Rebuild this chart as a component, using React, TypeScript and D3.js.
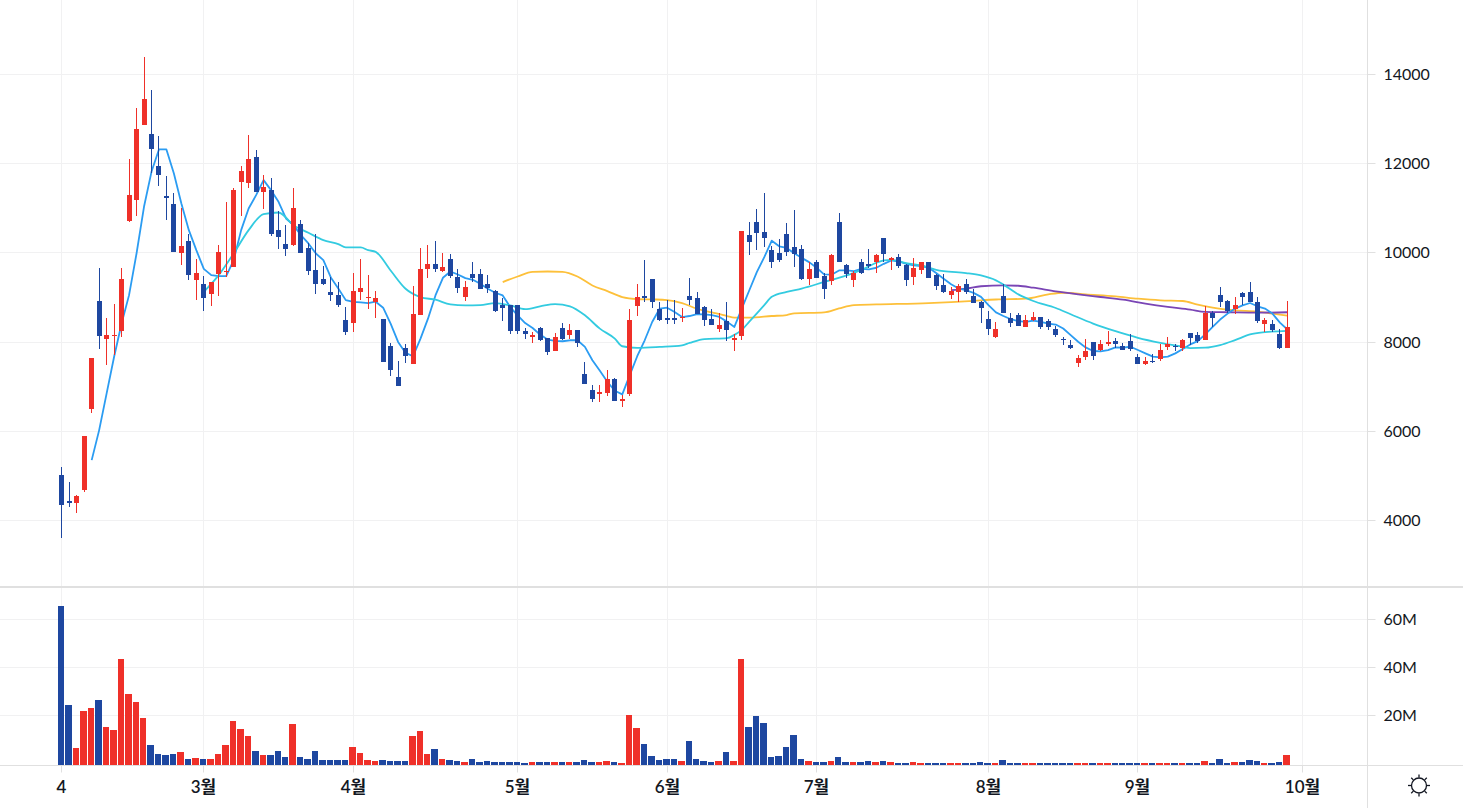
import * as D3 from 'd3'
import { useEffect, useRef } from 'react'

const HIGHS = [
  5197, 4861, 4569, 5892, 7641, 9658, 8538, 8851, 9658, 12102,
  13245, 14389, 13649, 12618, 11721, 11340, 11004, 10421, 9860, 9479,
  9345, 10174, 11138, 11452, 11945, 12640, 12304, 11743, 11676, 10936,
  10622, 11452, 10735, 10219, 10421, 9703, 9457, 9345, 8784, 9546,
  9860, 9502, 9136, 8510, 7974, 7572, 7952, 9248, 10120, 10187,
  10276, 10008, 9985, 9650, 9360, 9807, 9650, 9494, 9158, 8980,
  8823, 8823, 8309, 8220, 8332, 8086, 8197, 8421, 8399, 8265,
  7549, 7035, 7035, 7371, 7192, 6812, 8734, 9293, 9851, 9404,
  8890, 8935, 8935, 8756, 9430, 9118, 8807, 8740, 8651, 8896,
  8185, 10497, 10697, 10986, 11341, 10163, 10319, 10674, 10963, 10185,
  9785, 9830, 9541, 9985, 10897, 9741, 9585, 9874, 10096, 9985,
  10341, 9919, 9985, 9741, 9896, 9785, 9807, 9519, 9519, 9229,
  9296, 9407, 9185, 8918, 8696, 8451, 9296, 8647, 8647, 8602,
  8669, 8557, 8513, 8357, 8112, 8045, 7710, 8067, 8000, 8045,
  8245, 8089, 7977, 8178, 7733, 7666, 7733, 7955, 8112, 7955,
  8067, 8201, 8223, 8803, 8691, 9226, 8936, 9003, 9115, 9337,
  9003, 8535, 8490, 8290, 8914,
]
const LOWS = [
  3605, 4308, 4166, 4636, 6408, 7842, 7484, 7708, 8112, 10690,
  10824, 12864, 11788, 11497, 10735, 10017, 9726, 9389, 8941, 8694,
  8807, 9031, 9457, 9681, 10824, 11452, 11362, 10981, 10376, 10084,
  9927, 10152, 9995, 9502, 9076, 9277, 8919, 8784, 8157, 8224,
  8941, 8740, 8533, 7549, 7236, 7013, 7527, 7505, 8600, 9427,
  9561, 9561, 9427, 9091, 8913, 9337, 9181, 9091, 8667, 8466,
  8175, 8175, 8064, 7974, 8019, 7706, 7795, 8041, 8064, 7885,
  7058, 6655, 6655, 6789, 6678, 6544, 6789, 8577, 8890, 8756,
  8466, 8399, 8399, 8443, 8829, 8629, 8362, 8385, 8229, 8029,
  7807, 8051, 9963, 10074, 10141, 9652, 9807, 9941, 9674, 9385,
  9274, 9430, 8963, 9274, 9807, 9430, 9229, 9519, 9652, 9541,
  9785, 9607, 9652, 9252, 9274, 9519, 9430, 9163, 9096, 8963,
  8896, 9074, 8874, 8429, 8162, 8096, 8651, 8334, 8357, 8334,
  8468, 8290, 8268, 8112, 7933, 7844, 7443, 7599, 7599, 7800,
  7911, 7866, 7822, 7800, 7510, 7487, 7539, 7577, 7822, 7800,
  7800, 7933, 7977, 8045, 8334, 8780, 8647, 8624, 8825, 8892,
  8424, 8223, 8223, 7844, 7866,
]
const OPENS = [
  5018, 4435, 4390, 4681, 6497, 8919, 8067, 8134, 8246, 10712,
  11183, 12864, 12663, 11945, 11273, 11093, 9995, 10264, 9389, 9300,
  9076, 9524, 9569, 9681, 11586, 11564, 12147, 11362, 11407, 10510,
  10197, 10174, 10645, 10107, 9614, 9412, 9120, 9053, 8493, 8425,
  9120, 8979, 8890, 8510, 7907, 7214, 7862, 7505, 8600, 9628,
  9740, 9583, 9874, 9449, 9002, 9516, 9538, 9293, 9136, 8823,
  8823, 8823, 8242, 8108, 8309, 8086, 7795, 8309, 8153, 8265,
  7281, 6924, 6834, 6857, 7169, 6678, 6834, 8801, 9024, 9404,
  8734, 8533, 8533, 8533, 9029, 8985, 8785, 8518, 8296, 8474,
  8051, 8140, 10408, 10697, 10474, 10074, 10007, 10430, 10141, 10096,
  9407, 9807, 9474, 9363, 10697, 9718, 9385, 9785, 9741, 9807,
  10341, 9852, 9919, 9718, 9452, 9607, 9807, 9496, 9274, 9052,
  9118, 9296, 9029, 8896, 8518, 8118, 9029, 8535, 8602, 8334,
  8490, 8557, 8468, 8290, 8074, 7933, 7532, 7666, 8000, 7822,
  7955, 8022, 7911, 8022, 7666, 7510, 7584, 7621, 7889, 7911,
  7866, 8201, 8156, 8045, 8647, 9048, 8914, 8736, 9092, 9115,
  8892, 8401, 8401, 8178, 7866,
]
const CLOSES = [
  4353, 4390, 4547, 5892, 7641, 8134, 8156, 8156, 9412, 11295,
  12775, 13447, 12326, 11743, 11228, 10017, 10152, 9502, 9546, 8986,
  9345, 10017, 9591, 11407, 11833, 12102, 11362, 11474, 10421, 10353,
  10084, 11004, 9995, 9591, 9300, 9300, 9053, 8829, 8224, 9143,
  9210, 9008, 8980, 7549, 7371, 7013, 7683, 8622, 9628, 9740,
  9628, 9673, 9471, 9203, 9225, 9427, 9181, 9203, 8689, 8756,
  8242, 8242, 8175, 8153, 8041, 7773, 8108, 8064, 8265, 7974,
  7058, 6722, 6879, 7169, 6678, 6722, 8488, 9002, 8980, 8890,
  8488, 8488, 8488, 8555, 8940, 8629, 8496, 8385, 8385, 8274,
  8096, 10497, 10252, 10452, 10341, 9807, 9852, 10030, 9985, 9407,
  9630, 9430, 9185, 9963, 9807, 9519, 9541, 9541, 9696, 9963,
  9985, 9896, 9696, 9385, 9652, 9785, 9430, 9252, 9118, 9141,
  9252, 9118, 8874, 8763, 8296, 8296, 8651, 8424, 8357, 8490,
  8557, 8334, 8334, 8156, 8052, 7866, 7643, 7799, 7688, 7955,
  8000, 7955, 7822, 7844, 7510, 7577, 7562, 7822, 7955, 7889,
  8045, 8089, 8022, 8647, 8535, 8892, 8691, 8825, 9003, 8892,
  8468, 8490, 8268, 7866, 8339,
]
// millions of shares
const VOLUMES = [
  65.6, 24.3, 6.4, 21.8, 23.1, 26.4, 15.1, 13.9, 43.5, 28.9,
  25.6, 18.9, 7.6, 3.9, 3.5, 3.9, 4.7, 1.8, 2.2, 1.8,
  1.8, 3.9, 7.6, 17.6, 14.3, 11.4, 5.1, 3.5, 3.5, 5.1,
  2.6, 16.4, 2.6, 1.8, 5.1, 1.4, 1.4, 1.4, 1.4, 6.8,
  4.3, 1.4, 1.0, 1.4, 1.0, 1.0, 1.0, 11.4, 13.5, 3.9,
  6.0, 1.8, 1.4, 1.0, 0.6, 1.8, 0.6, 1.0, 0.6, 0.6,
  0.6, 0.6, 0.1, 0.6, 0.6, 0.6, 0.6, 0.6, 0.6, 0.6,
  1.4, 0.6, 0.6, 1.0, 0.6, 0.1, 20.1, 14.7, 8.1, 3.1,
  1.4, 1.8, 1.8, 1.0, 9.3, 1.8, 1.0, 0.6, 1.0, 4.7,
  1.0, 43.5, 15.1, 19.7, 16.8, 2.6, 3.1, 6.8, 11.8, 1.8,
  1.0, 0.6, 0.6, 1.0, 2.6, 0.6, 0.6, 0.6, 1.0, 0.6,
  1.1, 0.7, 0.3, 0.3, 0.7, 0.3, 0.3, 0.3, 0.3, 0.3,
  0.3, 0.3, 0.3, 0.7, 0.3, 0.3, 1.5, 0.3, 0.3, 0.3,
  0.3, 0.3, 0.3, 0.3, 0.3, 0.3, 0.3, 0.3, 0.3, 0.3,
  0.3, 0.3, 0.3, 0.3, 0.3, 0.3, 0.3, 0.3, 0.3, 0.3,
  0.3, 0.3, 0.3, 1.1, 0.3, 1.9, 0.3, 0.7, 0.7, 1.5,
  1.1, 0.3, 0.3, 0.7, 3.6,
]

// moving averages: [candle index, price]
const MA5_START = 4
const MA5 = [
  5354, 6027, 6849, 7671, 8418, 9053, 9987, 11034, 11818, 12319, 12319, 11781, 11108, 10510, 10062, 9643,
  9502, 9479, 9479, 9838, 10510, 10996, 11295, 11631, 11407, 11146, 10772, 10622, 10398, 10212, 9987, 9838,
  9449, 9203, 8941, 8904, 8889, 8874, 8905, 8771, 8414, 8004, 7758, 7683, 8078, 8525, 9047, 9442,
  9583, 9516, 9434, 9397, 9307, 9196, 9106, 9047, 8786, 8600, 8428, 8317, 8168, 8056, 8026, 8019,
  8041, 8041, 7892, 7594, 7356, 7110, 6909, 6827, 7259, 7683, 8041, 8451, 8749, 8771, 8674, 8562,
  8585, 8629, 8622, 8607, 8563, 8459, 8340, 8755, 9163, 9570, 9904, 10274, 10148, 10111, 9993, 9889,
  9793, 9667, 9518, 9511, 9607, 9607, 9592, 9644, 9629, 9667, 9755, 9830, 9807, 9755, 9718, 9704,
  9667, 9548, 9422, 9296, 9200, 9163, 9103, 9014, 8829, 8666, 8585, 8513, 8468, 8453, 8483, 8453,
  8416, 8394, 8305, 8156, 8007, 7881, 7800, 7792, 7822, 7881, 7874, 7896, 7822, 7747, 7673, 7658,
  7673, 7747, 7844, 7948, 8022, 8171, 8342, 8505, 8639, 8751, 8825, 8877, 8803, 8751, 8639, 8438,
  8282,
]
const MA20_DAYS = [
  19, 21, 23, 25, 27, 29, 31, 33, 35, 37, 38, 40, 41, 42, 44, 46, 48, 50, 52, 54, 56, 58, 60, 62, 64, 66, 68,
  70, 72, 74, 75, 77, 80, 83, 84, 86, 89, 90, 91, 92, 94, 95, 97, 99, 102, 105, 107, 110, 111, 113, 115, 117,
  118, 121, 123, 125, 126, 128, 130, 133, 135, 138, 141, 144, 147, 150, 151, 153, 155, 157, 159, 161, 164,
]
const MA20 = [
  9128, 9502, 9987, 10510, 10869, 10906, 10622, 10451, 10286, 10197, 10122, 10122, 10062, 10023, 9605, 9196, 9009,
  8950, 8846, 8823, 8831, 8875, 8823, 8741, 8801, 8853, 8801, 8600, 8302, 8078, 7907, 7870, 7892, 7929, 7981, 8066,
  8088, 8162, 8273, 8459, 8829, 9015, 9126, 9200, 9348, 9496, 9622, 9830, 9844, 9770, 9718, 9622, 9592, 9548, 9496,
  9385, 9289, 9070, 8921, 8765, 8624, 8416, 8245, 8097, 7985, 7896, 7866, 7874, 7933, 8045, 8171, 8223, 8253,
]
const MA60_DAYS = [
  59, 61, 63, 65, 67, 69, 71, 73, 75, 77, 79, 81, 83, 85, 87, 89, 90, 92, 95, 97, 98, 102, 104, 106, 109, 116,
  119, 122, 125, 126, 129, 132, 134, 137, 141, 144, 147, 150, 152, 154, 157, 160, 162, 164,
]
const MA60 = [
  9345, 9471, 9576, 9583, 9576, 9471, 9270, 9144, 9010, 8965, 8957, 8943, 8875, 8748, 8666, 8585, 8548, 8548, 8585,
  8607, 8644, 8666, 8755, 8829, 8844, 8874, 8896, 8926, 8955, 8959, 8973, 9070, 9107, 9070, 9025, 8973, 8936, 8921,
  8840, 8773, 8713, 8684, 8639, 8594,
]
const MA120_DAYS = [119, 121, 123, 126, 128, 130, 133, 136, 139, 142, 145, 148, 151, 153, 156, 160, 164]
const MA120 = [9163, 9200, 9252, 9270, 9263, 9219, 9137, 9070, 9011, 8951, 8862, 8788, 8728, 8676, 8669, 8661, 8669]

const PRICE_TICKS = [4000, 6000, 8000, 10000, 12000, 14000]
const VOLUME_TICKS = [20, 40, 60]
const MONTH_TICKS = [0, 19, 39, 61, 81, 101, 124, 144, 166]
const MONTH_LABELS = ['4', '3월', '4월', '5월', '6월', '7월', '8월', '9월', '10월']

const RED = '#ef3029'
const BLUE = '#1e47a0'
const GRID = '#f1f1f2'
const BORDER = '#e0e0e0'
const TEXT = '#131722'
const FONT = 'Lato, "Noto Sans CJK KR", sans-serif'

export default function App() {
  const chartRef = useRef<HTMLDivElement>(null)

  useEffect(() => {
    const width = 1463
    const height = 808
    const axisX = 1367.5
    const baseline = 765

    const x = D3.scaleLinear().domain([0, 164]).range([61.8, 1287.4])
    const y = D3.scaleLinear().domain([4000, 14000]).range([520.5, 74.5])
    const yVol = D3.scaleLinear().domain([20, 60]).range([715.5, 619.5])

    // snap to the pixel grid, candles and grid lines are 1px sharp in the original
    const px = (v: number) => Math.floor(v) + 0.5
    const days = D3.range(HIGHS.length)
    const colour = (i: number) => (CLOSES[i] >= OPENS[i] ? RED : BLUE)

    const svg = D3.create('svg')
      .attr('width', width)
      .attr('height', height)
      .attr('viewBox', [0, 0, width, height])
      .attr('style', `position:absolute;left:0;top:0;display:block;background:#fff;font-family:${FONT.replace(/"/g, "'")}`)

    /* grid */
    const grid = svg.append('g').attr('stroke', GRID).attr('stroke-width', 1)
    grid
      .selectAll()
      .data(MONTH_TICKS)
      .join('line')
      .attr('x1', (d) => px(x(d)))
      .attr('x2', (d) => px(x(d)))
      .attr('y1', 0)
      .attr('y2', baseline)
    grid
      .selectAll()
      .data(PRICE_TICKS)
      .join('line')
      .attr('x1', 0)
      .attr('x2', axisX)
      .attr('y1', (d) => px(y(d)))
      .attr('y2', (d) => px(y(d)))
    grid
      .selectAll()
      .data(VOLUME_TICKS)
      .join('line')
      .attr('x1', 0)
      .attr('x2', axisX)
      .attr('y1', (d) => px(yVol(d)))
      .attr('y2', (d) => px(yVol(d)))

    /* volume bars */
    svg
      .append('g')
      .attr('shape-rendering', 'crispEdges')
      .selectAll()
      .data(days)
      .join('rect')
      .attr('x', (i) => Math.round(x(i) - 4))
      .attr('width', (i) => Math.round(x(i + 1) - 4) - Math.round(x(i) - 4) - 1)
      .attr('y', (i) => Math.round(yVol(VOLUMES[i])))
      .attr('height', (i) => baseline - Math.round(yVol(VOLUMES[i])))
      .attr('fill', colour)

    /* moving averages go under the candles */
    const line = D3.line<[number, number]>()
      .x((d) => x(d[0]))
      .y((d) => y(d[1]))
    const smooth = D3.line<[number, number]>()
      .x((d) => x(d[0]))
      .y((d) => y(d[1]))
      .curve(D3.curveMonotoneX)
    const zip = (ds: number[], vs: number[]) => ds.map((d, i) => [d, vs[i]] as [number, number])

    const lines = svg.append('g').attr('fill', 'none').attr('stroke-width', 1.8).attr('stroke-linejoin', 'round')
    lines.append('path').attr('d', smooth(zip(MA60_DAYS, MA60))).attr('stroke', '#fdc03a')
    lines.append('path').attr('d', smooth(zip(MA120_DAYS, MA120))).attr('stroke', '#7a45b5')
    lines
      .append('path')
      .attr('d', line(MA5.map((v, i) => [i + MA5_START, v] as [number, number])))
      .attr('stroke', '#2b9cf2')
    lines.append('path').attr('d', smooth(zip(MA20_DAYS, MA20))).attr('stroke', '#33cbe0')

    /* candles */
    const candles = svg.append('g').attr('shape-rendering', 'crispEdges')
    candles
      .selectAll()
      .data(days)
      .join('rect')
      .attr('x', (i) => Math.floor(x(i)))
      .attr('width', 1)
      .attr('y', (i) => Math.round(y(HIGHS[i])))
      .attr('height', (i) => Math.round(y(LOWS[i])) - Math.round(y(HIGHS[i])))
      .attr('fill', colour)
    candles
      .selectAll()
      .data(days)
      .join('rect')
      .attr('x', (i) => Math.floor(x(i)) - 2)
      .attr('width', 5)
      .attr('y', (i) => Math.round(y(Math.max(OPENS[i], CLOSES[i]))))
      .attr('height', (i) =>
        Math.max(1, Math.round(y(Math.min(OPENS[i], CLOSES[i]))) - Math.round(y(Math.max(OPENS[i], CLOSES[i])))),
      )
      .attr('fill', colour)

    /* frame */
    const frame = svg.append('g').attr('stroke', BORDER)
    frame.append('line').attr('x1', 0).attr('x2', width).attr('y1', 587).attr('y2', 587).attr('stroke-width', 2)
    frame.append('line').attr('x1', 0).attr('x2', width).attr('y1', 765.5).attr('y2', 765.5)
    frame.append('line').attr('x1', axisX).attr('x2', axisX).attr('y1', 0).attr('y2', height)

    /* axes */
    const styleAxis = (g: D3.Selection<SVGGElement, unknown, null, undefined>) => {
      g.select('.domain').remove()
      g.selectAll('.tick line').attr('stroke', BORDER)
      g.selectAll('.tick text').attr('fill', TEXT)
      g.attr('font-family', null).attr('font-size', 16)
    }
    svg
      .append('g')
      .attr('transform', `translate(${axisX}, 0)`)
      .call(D3.axisRight(y).tickValues(PRICE_TICKS).tickFormat(D3.format('d')).tickSize(8).tickPadding(8))
      .call((g) => g.selectAll<SVGGElement, number>('.tick').attr('transform', (d) => `translate(0, ${px(y(d))})`))
      .call(styleAxis as any)
    svg
      .append('g')
      .attr('transform', `translate(${axisX}, 0)`)
      .call(
        D3.axisRight(yVol)
          .tickValues(VOLUME_TICKS)
          .tickFormat((d) => `${d}M`)
          .tickSize(8)
          .tickPadding(8),
      )
      .call((g) => g.selectAll<SVGGElement, number>('.tick').attr('transform', (d) => `translate(0, ${px(yVol(d))})`))
      .call(styleAxis as any)
    svg
      .append('g')
      .attr('transform', `translate(0, ${baseline + 0.5})`)
      .call(
        D3.axisBottom(x)
          .tickValues(MONTH_TICKS)
          .tickFormat((_, i) => MONTH_LABELS[i])
          .tickSize(7)
          .tickPadding(8),
      )
      .call((g) => g.selectAll<SVGGElement, number>('.tick').attr('transform', (d) => `translate(${px(x(d))}, 0)`))
      .call(styleAxis as any)
      .call((g) => g.selectAll('.tick text').attr('font-weight', 600).attr('font-size', 17))

    /* theme toggle */
    const sun = svg
      .append('g')
      .attr('transform', 'translate(1419, 785.5)')
      .attr('fill', 'none')
      .attr('stroke', TEXT)
      .attr('stroke-width', 1.3)
    sun.append('circle').attr('r', 7.5)
    sun
      .selectAll()
      .data(D3.range(8))
      .join('line')
      .attr('y1', -8)
      .attr('y2', -11)
      .attr('transform', (d) => `rotate(${d * 45})`)

    const node = svg.node()
    if (chartRef.current && node) {
      chartRef.current.replaceChildren(node)
    }
  }, [])

  return <div ref={chartRef} />
}
